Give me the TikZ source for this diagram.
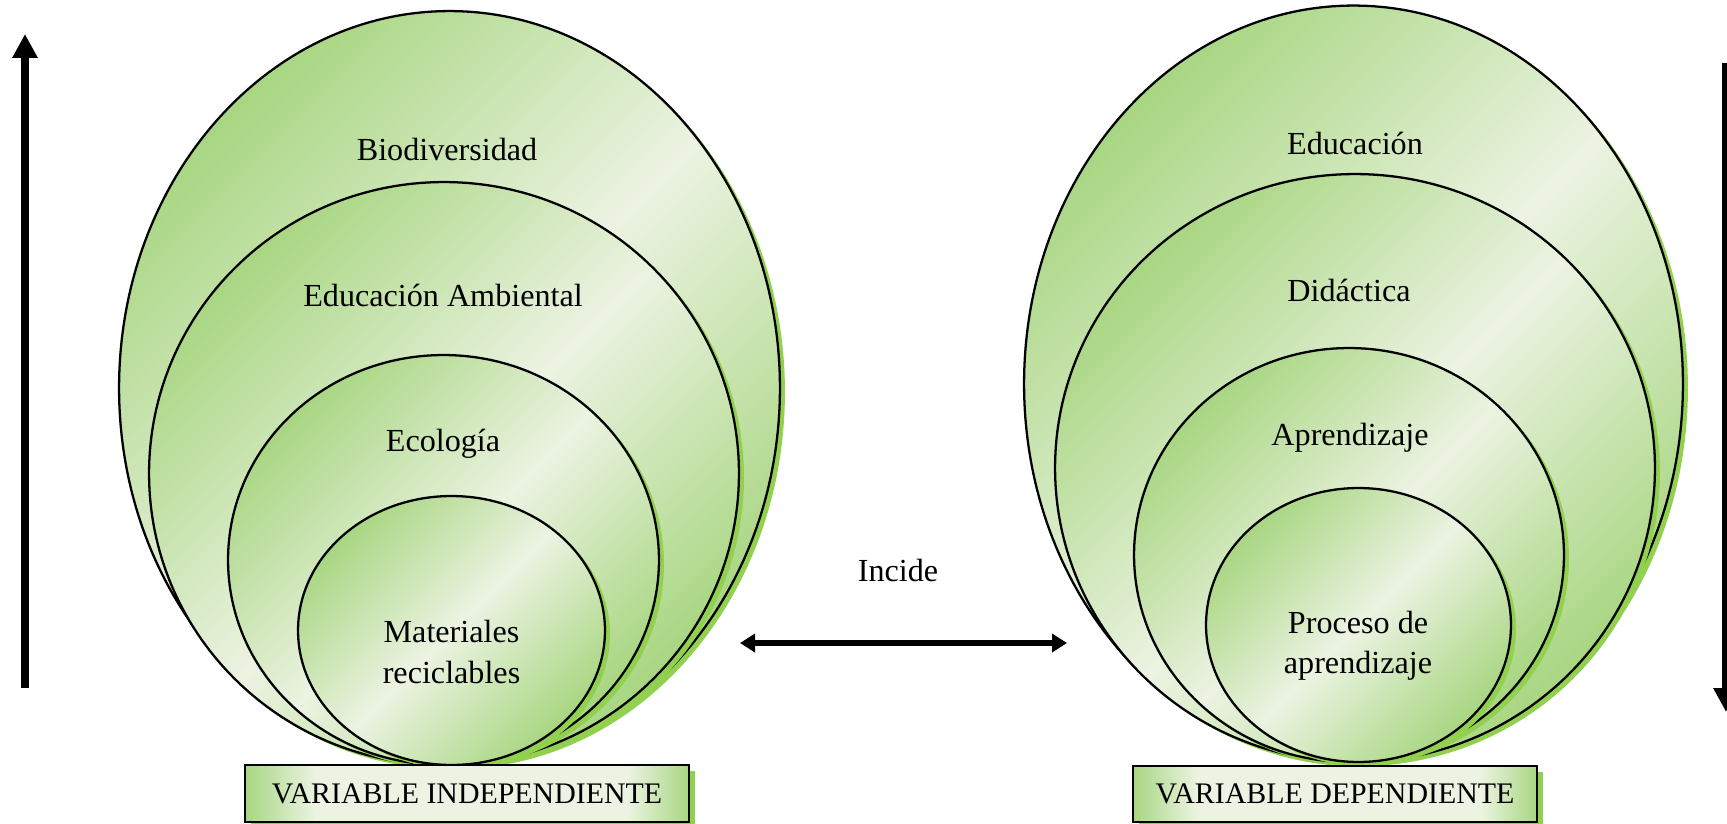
\documentclass[tikz,border=0pt]{standalone}
\usepackage{fontspec}
\setmainfont{Liberation Serif}
\usetikzlibrary{shapes.geometric,shadows,arrows.meta}
\definecolor{gdark}{RGB}{168,214,130}
\definecolor{glight}{RGB}{236,243,226}
\definecolor{gshadow}{RGB}{146,208,80}
\pgfdeclarehorizontalshading{boxshade}{100bp}{color(0bp)=(gdark); color(25bp)=(gdark); color(33bp)=(glight); color(68bp)=(glight); color(75bp)=(gdark); color(100bp)=(gdark)}
\begin{document}
\begin{tikzpicture}[x=0.02cm,y=-0.02cm,
  ring/.style={ellipse, draw=black, line width=1.3pt, inner sep=0pt, outer sep=0pt,
    top color=gdark, bottom color=gdark, middle color=glight, shading angle=45,
    drop shadow={shadow xshift=0.1cm, shadow yshift=-0.08cm, fill=gshadow, opacity=1}},
  varbox/.style={rectangle, draw=black, line width=1.2pt, inner sep=0pt, outer sep=0pt,
    shading=boxshade, shading angle=0,
    drop shadow={shadow xshift=0.12cm, shadow yshift=-0.12cm, fill=gshadow, opacity=1},
    font=\fontsize{17}{20}\selectfont},
  lbl/.style={align=center, inner sep=0pt, font=\fontsize{18.3}{23}\selectfont},
  bigarrow/.style={line width=4.9pt, -{Triangle[length=0.48cm,width=0.48cm]}},
  midarrow/.style={line width=3pt, {Triangle[length=0.3cm,width=0.36cm]}-{Triangle[length=0.3cm,width=0.36cm]}}
]
\useasboundingbox (0,0) rectangle (1727,824);

% left nest
\node[ring, minimum width=13.22cm, minimum height=15.08cm] (L1) at (449.5,388) {};
\node[ring, minimum width=11.8cm, minimum height=11.66cm] (L2) at (444,473.5) {};
\node[ring, minimum width=8.62cm, minimum height=8.2cm] (L3) at (443.5,560) {};
\node[ring, minimum width=6.14cm, minimum height=5.38cm] (L4) at (451.5,630.5) {};

% right nest
\node[ring, minimum width=13.18cm, minimum height=15.14cm] (R1) at (1353.5,384) {};
\node[ring, minimum width=12.0cm, minimum height=11.76cm] (R2) at (1355,468) {};
\node[ring, minimum width=8.6cm, minimum height=8.28cm] (R3) at (1349,555) {};
\node[ring, minimum width=6.1cm, minimum height=5.48cm] (R4) at (1358.5,625) {};

% labels
\node[lbl] (tL1) at (447,150) {Biodiversidad};
\node[lbl] (tL2) at (443,295) {Educación Ambiental};
\node[lbl] (tL3) at (443,444) {Ecología};
\node[lbl] (tL4) at (451.5,652) {Materiales\\reciclables};
\node[lbl] (tR1) at (1355,143) {Educación};
\node[lbl] (tR2) at (1349,290) {Didáctica};
\node[lbl] (tR3) at (1350,438) {Aprendizaje};
\node[lbl] (tR4) at (1358,646) {Proceso de\\aprendizaje};
\node[lbl] (inc) at (898,570) {Incide};

% boxes
\node[varbox, minimum width=8.88cm, minimum height=1.14cm] (VI) at (467,793.5) {VARIABLE INDEPENDIENTE};
\node[varbox, minimum width=8.08cm, minimum height=1.12cm] (VD) at (1335,794) {VARIABLE DEPENDIENTE};

% arrows
\coordinate (la0) at (25,688);
\coordinate (la1) at (25,34);
\coordinate (ra0) at (1726,63);
\coordinate (ra1) at (1726,712);
\coordinate (ma0) at (740,643);
\coordinate (ma1) at (1067,643);
\draw[bigarrow] (la0) -- (la1);
\draw[bigarrow] (ra0) -- (ra1);
\draw[midarrow] (ma0) -- (ma1);
\end{tikzpicture}
\end{document}
